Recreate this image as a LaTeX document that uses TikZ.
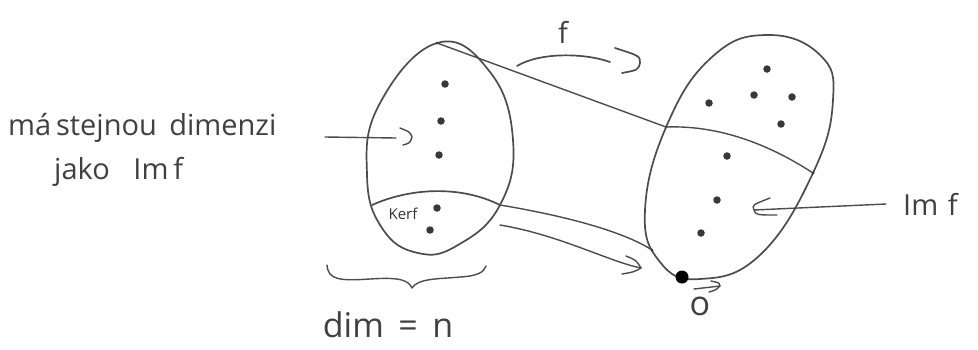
\documentclass[tikz,border=0pt]{standalone}
\usepackage{fontspec}
\setmainfont{Open Sans}
\usetikzlibrary{decorations.pathreplacing,calc}
\begin{document}
\begin{tikzpicture}[x=1pt,y=-1pt,
  pen/.style={draw=black!70,line width=1.7pt,line cap=round,line join=round},
  thin pen/.style={draw=black!70,line width=1.4pt,line cap=round,line join=round},
  pt/.style={circle,fill=black!78,inner sep=0pt,minimum size=7.5pt},
  smallpt/.style={circle,fill=black!78,inner sep=0pt,minimum size=3pt},
  hand/.style={text=black!75,inner sep=0pt,font=\fontsize{29}{34}\selectfont}]
\useasboundingbox (0,0) rectangle (978,349);
% left egg
\draw[pen] plot[smooth cycle,tension=0.75] coordinates {(437,43) (490,72) (513,140) (500,205) (458,245) (418,253) (382,228) (367,175) (379,105)};
% kernel line
\coordinate (kl) at (372,205);
\coordinate (kr) at (500,205);
\draw[pen] (kl) .. controls (410,188) and (460,185) .. (kr);
% right egg
\draw[pen] plot[smooth cycle,tension=0.75] coordinates {(767,35) (820,55) (833,100) (813,173) (760,255) (700,279) (660,262) (645,210) (667,125) (712,57)};
% image line
\coordinate (il) at (666,127);
\coordinate (ir) at (813,173);
\draw[thin pen] (il) .. controls (720,125) and (770,145) .. (ir);
% points left
\node[pt] (a1) at (445,84) {};
\node[pt] (a2) at (441,121) {};
\node[pt] (a3) at (439,155) {};
\node[pt] (k1) at (437,208) {};
\node[pt] (k2) at (430,230) {};
% points right
\node[pt] (b1) at (767,69) {};
\node[pt] (b2) at (709,103) {};
\node[pt] (b3) at (754,95) {};
\node[pt] (b4) at (792,97) {};
\node[pt] (b5) at (781,124) {};
\node[pt] (c1) at (727,156) {};
\node[pt] (c2) at (717,200) {};
\node[pt] (c3) at (701,233) {};
\node[circle,fill=black,inner sep=0pt,minimum size=13pt] (zero) at (682,277) {};
\node[smallpt] (sl) at (652,250) {};
\node[smallpt] at (il) {};
\node[smallpt] at (ir) {};
\node[smallpt] (top) at (437,43) {};
% connecting lines
\draw[thin pen] (top) -- (il);
\draw[thin pen] (kr) .. controls (560,215) and (620,230) .. (sl);
\coordinate (q1) at (500,225);
\coordinate (q2) at (641,268);
\draw[thin pen] (q1) .. controls (560,235) and (610,262) .. (q2);
\draw[thin pen] (626,256) .. controls (636,260) .. (q2) .. controls (634,272) .. (622,274);
% f arrow
\coordinate (f1) at (517,66);
\coordinate (f2) at (610,62);
\draw[pen] (f1) .. controls (540,52) and (585,53) .. (f2);
\draw[pen] (615,48) .. controls (640,56) .. (640,63) .. controls (638,70) .. (622,73);
\node[hand] (f) at (563,32) {f};
% left label
\node[hand,anchor=west] (lab1) at (8,128) {má\,stejnou\, dimenzi};
\node[hand,anchor=west] (lab2) at (54,172) {jako\;\; Im\,f};
\coordinate (la1) at (325,137);
\coordinate (la2) at (412,137);
\draw[thin pen] (la1) -- (396,138);
\draw[thin pen] (400,128) .. controls (410,132) .. (la2) .. controls (410,143) .. (403,145);
% right label
\node[hand,anchor=west] (lab3) at (903,204) {Im\,\,f};
\coordinate (ra1) at (886,204);
\coordinate (ra2) at (754,210);
\draw[thin pen] (ra1) -- (ra2);
\draw[thin pen] (770,198) .. controls (752,205) .. (ra2) .. controls (756,215) .. (777,215);
% kerf label
\node[text=black!80,inner sep=0pt,font=\fontsize{15}{17}\selectfont] (kerf) at (403,214) {Kerf};
% zero vector
\node[text=black!75,inner sep=0pt,font=\fontsize{34}{36}\selectfont] (o) at (700,306) {o};
\coordinate (va) at (694,289);
\coordinate (vb) at (720,286);
\draw[thin pen] (va) -- (vb);
\draw[thin pen] (711,281) .. controls (720,283) .. (vb) .. controls (716,290) .. (709,292);
% brace
\coordinate (br1) at (327,265);
\coordinate (br2) at (486,266);
\draw[thin pen] (br1) .. controls (328,280) and (340,281) .. (370,279)
  .. controls (400,277) and (408,280) .. (412,288)
  .. controls (418,278) and (440,279) .. (460,277) .. controls (478,276) and (484,272) .. (br2);
\node[hand,font=\fontsize{34}{38}\selectfont] (dim) at (388,325) {dim\, =\, n};
\end{tikzpicture}
\end{document}
